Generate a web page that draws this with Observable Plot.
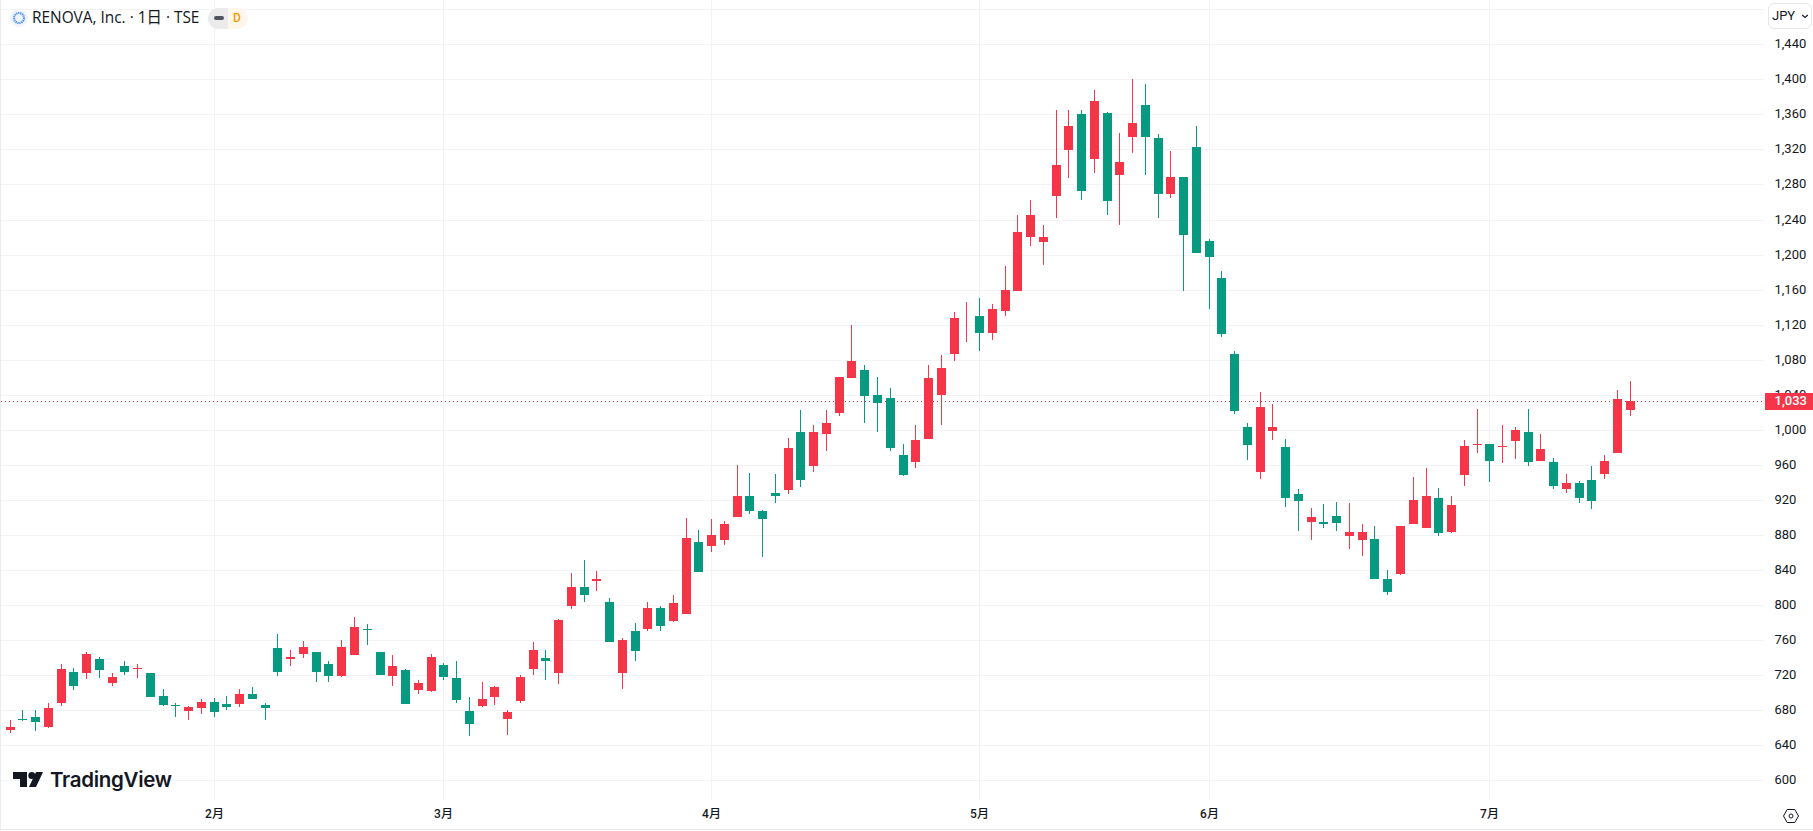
<!DOCTYPE html>
<html lang="ja">
<head>
<meta charset="utf-8">
<title>RENOVA, Inc.</title>
<script src="https://cdn.jsdelivr.net/npm/d3@7"></script>
<script src="https://cdn.jsdelivr.net/npm/@observablehq/plot@0.6"></script>
<style>
html,body{margin:0;padding:0;background:#fff;overflow:hidden}
#wrap{position:relative;width:1813px;height:831px;font-family:Roboto,"Noto Sans CJK JP",sans-serif;color:#131722}
#chart svg{display:block}
.abs{position:absolute}
</style>
</head>
<body>
<div id="wrap">
  <div id="chart"></div>
  <div class="abs" style="left:0;top:0;width:1px;height:830px;background:#e9ebee"></div>
  <div class="abs" style="left:0;top:829px;width:1813px;height:1px;background:#e6e7ea"></div>
  <svg class="abs" style="left:10px;top:9px" width="18" height="18" viewBox="0 0 18 18">
    <circle cx="9" cy="9" r="9" fill="#f0f3fa"/>
    <circle cx="9" cy="9" r="5" fill="none" stroke="#5b9cf0" stroke-width="2.2" stroke-dasharray="1.4 .6"/>
  </svg>
  <div id="title" class="abs" style="left:32px;top:9px;font-family:'Open Sans','Noto Sans CJK JP',sans-serif;font-size:15.400px;line-height:18px;white-space:nowrap"></div>
  <div class="abs" style="left:208px;top:8px;width:20px;height:21px;background:#ebebeb;border-radius:10px 0 0 10px"></div>
  <div class="abs" style="left:214px;top:16px;width:10px;height:4px;background:#50535e;border-radius:2px"></div>
  <div class="abs" style="left:228px;top:8px;width:20px;height:21px;background:#fff6ec;border-radius:0 10px 10px 0;color:#ff9800;font-size:12px;font-weight:500;line-height:20px;text-indent:5px">D</div>
  <div class="abs" style="left:1768px;top:3px;width:42px;height:24px;border:1px solid #e6e7ea;border-radius:6px;background:#fff"></div>
  <div class="abs" style="left:1772px;top:7px;font-size:13px;line-height:17px">JPY</div>
  <svg class="abs" style="left:1801px;top:12px" width="8" height="8" viewBox="0 0 8 8"><path d="M1.2 3l2.8 2.4L6.8 3" fill="none" stroke="#131722" stroke-width="1.2"/></svg>
  <svg class="abs" style="left:1782px;top:808px" width="18" height="16" viewBox="0 0 18 16">
    <path d="M1.5 8L5.2 1.5H12.8L16.5 8L12.8 14.500H5.200Z" fill="none" stroke="#131722" stroke-width="1"/>
    <circle cx="9" cy="8" r="2" fill="none" stroke="#131722" stroke-width="1"/>
  </svg>
  <svg class="abs" style="left:13px;top:771px" width="32" height="17" viewBox="0 0 32 17">
    <path d="M14 1H0V8H7V16H14Z" fill="#131722"/>
    <circle cx="18.800" cy="4.500" r="3.500" fill="#131722"/>
    <path d="M23 1H30L23 16H16Z" fill="#131722"/>
  </svg>
  <div class="abs" style="left:50px;top:766px;font-family:Inter,Roboto,sans-serif;font-size:20.500px;font-weight:600;line-height:28px;letter-spacing:-.3px">TradingView</div>
</div>
<script>
const titleText = "RENOVA, Inc. · 1日 · TSE";
const monthIndex = [16, 34, 55, 76, 94, 116];
const monthLabels = ["2月", "3月", "4月", "5月", "6月", "7月"];
const priceTicks = d3.range(600, 1441, 40);
const gridLevels = d3.range(600, 1481, 40);
const lastPrice = 1033;

// One value per session, oldest first (JPY).
const highs = [669,680,680,688,733,728,746,741,723,736,733,723,704,688,685,693,694,696,704,707,688,767,749,759,747,736,760,786,779,746,743,727,714,744,734,736,695,712,708,680,720,758,749,784,837,851,839,808,762,780,803,799,811,899,886,898,896,960,951,909,950,991,1023,1006,1023,1060,1120,1074,1060,1048,984,1006,1074,1085,1134,1146,1150,1144,1187,1245,1262,1234,1365,1365,1365,1388,1363,1339,1400,1395,1338,1318,1288,1347,1218,1181,1090,1008,1043,1030,990,933,911,915,918,916,893,890,840,890,946,957,934,924,988,1024,984,1006,1003,1024,995,968,950,942,959,971,1046,1056];
const lows = [654,668,656,660,685,703,716,717,708,720,717,695,685,672,669,676,672,680,684,693,669,719,731,740,712,712,718,743,754,720,708,687,698,701,715,688,651,684,686,652,688,720,714,710,795,803,816,758,704,736,770,770,781,790,838,861,869,901,904,855,917,927,935,952,976,1016,1059,1008,997,976,947,957,990,1005,1078,1100,1090,1103,1130,1159,1210,1188,1242,1287,1262,1293,1245,1234,1316,1291,1242,1264,1159,1202,1138,1106,1018,966,944,988,912,884,874,888,885,864,856,830,812,834,892,888,879,882,936,974,940,962,967,959,964,933,928,917,910,944,973,1016];
const bodyTops = [661,670,672,683,727,724,744,739,718,731,728,723,696,686,684,690,690,687,698,698,686,751,741,752,746,733,752,775,773,746,731,726,711,741,732,717,679,693,706,678,718,749,740,783,821,821,830,804,760,770,797,797,802,877,872,880,892,925,925,907,928,979,998,997,1008,1060,1079,1068,1040,1036,971,988,1059,1070,1128,1111,1130,1138,1160,1226,1245,1220,1302,1347,1360,1375,1362,1306,1350,1371,1333,1288,1288,1323,1215,1173,1087,1003,1026,1003,980,927,901,895,902,883,883,875,830,890,920,925,922,914,982,984,984,981,1000,997,978,963,939,939,943,964,1035,1033];
const bodyBottoms = [658,669,667,661,688,708,723,726,711,724,727,695,686,685,679,683,678,684,687,693,683,724,738,744,724,719,719,743,772,720,719,687,703,702,718,692,664,685,695,670,691,727,736,722,799,812,827,758,722,748,773,776,782,790,838,868,874,901,907,898,925,931,943,959,995,1019,1059,1039,1031,979,948,963,990,1040,1087,1110,1110,1110,1136,1159,1220,1214,1267,1319,1272,1309,1261,1291,1334,1334,1269,1269,1222,1202,1197,1109,1022,983,952,999,922,919,895,892,894,879,874,830,815,835,892,888,882,883,949,983,965,980,987,963,965,936,933,922,919,950,973,1023];
const sessions = ["r","g","g","r","r","g","r","g","r","g","r","g","g","g","r","r","g","g","r","g","g","g","r","r","g","g","r","r","g","g","r","g","r","r","g","g","g","r","r","r","r","r","g","r","r","g","r","g","r","g","r","g","r","r","g","r","r","r","g","g","g","r","g","r","r","r","r","g","g","g","g","r","r","r","r","r","g","r","r","r","r","r","r","r","g","r","g","r","r","g","g","r","g","g","g","g","g","g","r","r","g","g","r","g","g","r","r","g","g","r","r","r","g","r","r","r","g","r","r","g","r","g","r","g","g","r","r","r"];

document.getElementById("title").textContent = titleText;

const candles = highs.map((high, i) => ({
  i,
  high,
  low: lows[i],
  top: bodyTops[i],
  bottom: bodyBottoms[i],
  up: sessions[i] === "r"
}));

const RED = "#f43648", GREEN = "#089981", GRID = "#f2f3f4", INK = "#131722";
const colour = d => d.up ? RED : GREEN;

const plot = Plot.plot({
  width: 1813,
  height: 831,
  marginLeft: 1,
  marginRight: 49,
  marginTop: 0,
  marginBottom: 31,
  style: {background: "#fff", fontFamily: 'Roboto,"Noto Sans CJK JP",sans-serif'},
  x: {type: "linear", domain: [-0.674, 137.535], round: true, axis: null},
  y: {type: "linear", domain: [577.6, 1490.5], round: true, axis: null},
  marks: [
    Plot.ruleY(gridLevels, {stroke: GRID, strokeWidth: 1}),
    Plot.ruleX(monthIndex, {stroke: GRID, strokeWidth: 1}),
    Plot.ruleY([lastPrice], {stroke: "#d92c40", strokeWidth: 1, strokeDasharray: "1,3"}),
    Plot.ruleX(candles, {x: "i", y1: "low", y2: "high", stroke: colour, strokeWidth: 1}),
    Plot.ruleX(candles, {x: "i", y1: "bottom", y2: "top", stroke: colour, strokeWidth: 9}),
    Plot.axisY({
      anchor: "right", ticks: priceTicks, tickSize: 0, tickPadding: 10, dy: -1,
      tickFormat: d3.format(","), fontSize: 13, fill: INK, label: null, marginRight: 49
    }),
    Plot.axisX({
      anchor: "bottom", ticks: monthIndex, tickSize: 0, tickPadding: 9,
      tickFormat: i => monthLabels[monthIndex.indexOf(i)], fontSize: 12, fontWeight: 500, fill: INK, label: null
    }),
    Plot.ruleY([lastPrice], {x1: 137.6, x2: 141.4, stroke: RED, strokeWidth: 17}),
    Plot.text([lastPrice], {
      x: 138.33, y: d => d, text: d => d3.format(",")(d), dy: -1,
      textAnchor: "start", fill: "#fff", fontSize: 13, fontWeight: 500
    })
  ]
});
document.getElementById("chart").appendChild(plot);
</script>
</body>
</html>
